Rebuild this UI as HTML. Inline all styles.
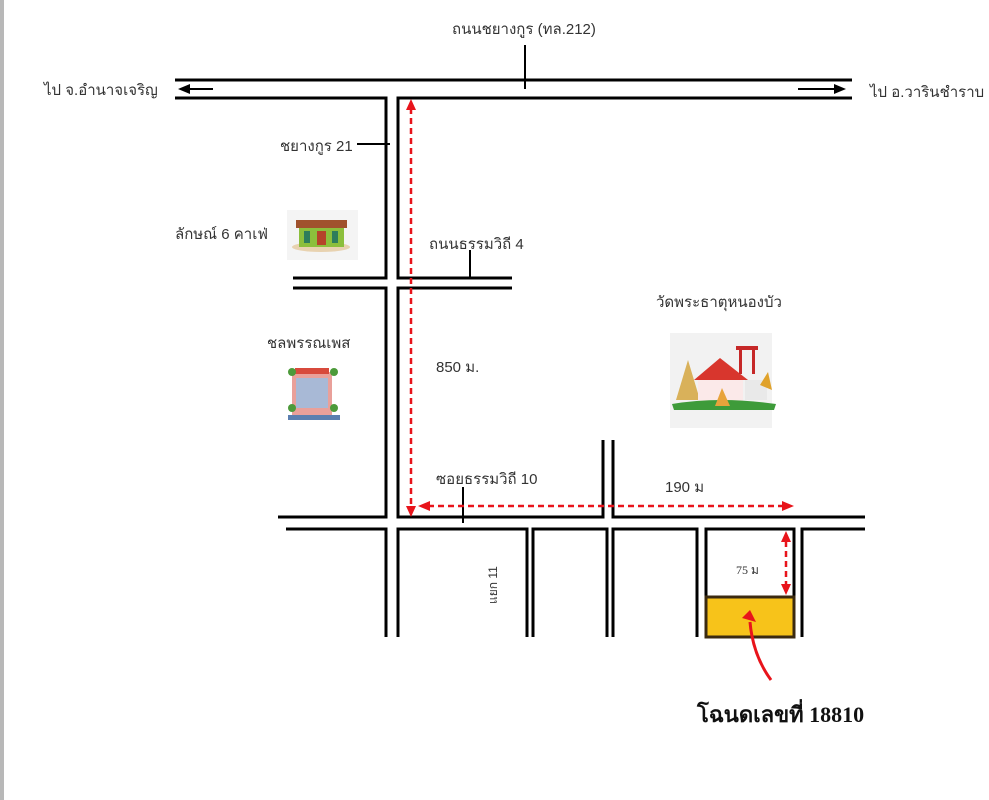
<!DOCTYPE html>
<html><head><meta charset="utf-8"><style>
html,body{margin:0;padding:0;background:#fff;width:989px;height:800px;overflow:hidden}
svg{display:block}
text{font-family:"Liberation Sans","Noto Sans CJK SC","WenQuanYi Zen Hei",sans-serif;fill:#333;font-size:15px}
</style></head><body>
<svg width="989" height="800" viewBox="0 0 989 800" xmlns="http://www.w3.org/2000/svg">
<rect x="0" y="0" width="4" height="800" fill="#b8b8b8"/>
<g stroke="#000" stroke-width="3" fill="none">
<line x1="175" y1="80" x2="852" y2="80"/>
<path d="M175,98 H386 V278 H293"/>
<path d="M852,98 H398 V278 H512"/>
<path d="M293,288 H386 V517 H278"/>
<path d="M512,288 H398 V517 H603 V440"/>
<path d="M613,440 V517 H865"/>
<path d="M286,529 H386 V637"/>
<path d="M398,637 V529 H527 V637"/>
<path d="M533,637 V529 H607 V637"/>
<path d="M613,637 V529 H697 V637"/>
<path d="M706,637 V529 H794 V637"/>
<path d="M802,637 V529 H865"/>
</g>
<g stroke="#000" stroke-width="2">
<line x1="525" y1="45" x2="525" y2="89"/>
<line x1="357" y1="144" x2="390" y2="144"/>
<line x1="470" y1="250" x2="470" y2="278"/>
<line x1="463" y1="487" x2="463" y2="523"/>
<line x1="213" y1="89" x2="188" y2="89"/>
<line x1="798" y1="89" x2="836" y2="89"/>
</g>
<path d="M178,89 L190,84 L190,94 z" fill="#000"/>
<path d="M846,89 L834,84 L834,94 z" fill="#000"/>
<g stroke="#e8141b" stroke-width="2.5" stroke-dasharray="6,4" fill="none">
<line x1="411" y1="108" x2="411" y2="508"/>
<line x1="428" y1="506" x2="782" y2="506"/>
<line x1="786" y1="541" x2="786" y2="585"/>
</g>
<g fill="#e8141b">
<path d="M411,99 L406,110 L416,110 z"/>
<path d="M411,517 L406,506 L416,506 z"/>
<path d="M418,506 L430,501 L430,511 z"/>
<path d="M794,506 L782,501 L782,511 z"/>
<path d="M786,531 L781,542 L791,542 z"/>
<path d="M786,595 L781,584 L791,584 z"/>
</g>
<rect x="706" y="597" width="88" height="40" fill="#f7c31a" stroke="#3b2a10" stroke-width="3"/>
<path d="M771,680 C760,665 752,645 750,622" stroke="#e8141b" stroke-width="3" fill="none"/>
<path d="M742,618 L750,610 L756,622 z" fill="#e8141b"/>
<text x="452" y="34">ถนนชยางกูร (ทล.212)</text>
<text x="44" y="95">ไป จ.อำนาจเจริญ</text>
<text x="870" y="97">ไป อ.วารินชำราบ</text>
<text x="280" y="151">ชยางกูร 21</text>
<text x="175" y="239">ลักษณ์ 6 คาเฟ่</text>
<text x="429" y="249">ถนนธรรมวิถี 4</text>
<text x="656" y="307">วัดพระธาตุหนองบัว</text>
<text x="267" y="348">ชลพรรณเพส</text>
<text x="436" y="372">850 ม.</text>
<text x="436" y="484">ซอยธรรมวิถี 10</text>
<text x="665" y="492">190 ม</text>
<text x="736" y="574" style="font-size:12px;font-family:'Liberation Serif',serif">75 ม</text>
<text x="0" y="0" transform="translate(497,604) rotate(-90)" style="font-size:12px">แยก 11</text>
<text x="697" y="722" style="font-family:'Liberation Serif','Noto Serif CJK SC',serif;font-weight:bold;font-size:22px;fill:#111">โฉนดเลขที่ 18810</text>
<g>
<rect x="287" y="210" width="71" height="50" fill="#f4f4f4"/>
<ellipse cx="321" cy="247" rx="29" ry="5" fill="#e8d2b0"/>
<rect x="299" y="226" width="45" height="21" fill="#8cbf3c"/>
<rect x="296" y="220" width="51" height="8" fill="#a0522d"/>
<rect x="304" y="231" width="6" height="12" fill="#2e7d5b"/>
<rect x="317" y="231" width="9" height="14" fill="#b5432a"/>
<rect x="332" y="231" width="6" height="12" fill="#2e7d5b"/>
</g>
<g>
<rect x="292" y="372" width="40" height="45" fill="#e9a09a"/>
<rect x="295" y="368" width="34" height="6" fill="#d84a3c"/>
<rect x="296" y="378" width="32" height="30" fill="#a8b9d6"/>
<rect x="288" y="415" width="52" height="5" fill="#5b7fb0"/>
<circle cx="292" cy="372" r="4" fill="#4c9a3a"/><circle cx="334" cy="372" r="4" fill="#4c9a3a"/>
<circle cx="292" cy="408" r="4" fill="#4c9a3a"/><circle cx="334" cy="408" r="4" fill="#4c9a3a"/>
</g>
<g>
<rect x="670" y="333" width="102" height="95" fill="#f2f2f2"/>
<path d="M676,400 L688,360 L700,400 z" fill="#d9b15a"/>
<rect x="698" y="378" width="45" height="24" fill="#fbe9e9"/>
<path d="M694,380 L720,358 L748,380 z" fill="#d8362d"/>
<rect x="736" y="346" width="22" height="4" fill="#c62828"/>
<rect x="739" y="348" width="3" height="26" fill="#c62828"/><rect x="752" y="348" width="3" height="26" fill="#c62828"/>
<rect x="745" y="380" width="22" height="20" fill="#e9e9e9"/>
<path d="M760,385 L768,372 L772,390 z" fill="#e0a22b"/>
<path d="M672,404 Q720,396 776,404 L774,410 L674,410 z" fill="#3e9b3a"/>
<path d="M715,406 L722,388 L730,406 z" fill="#e8a33b"/>
</g>
</svg>
</body></html>
